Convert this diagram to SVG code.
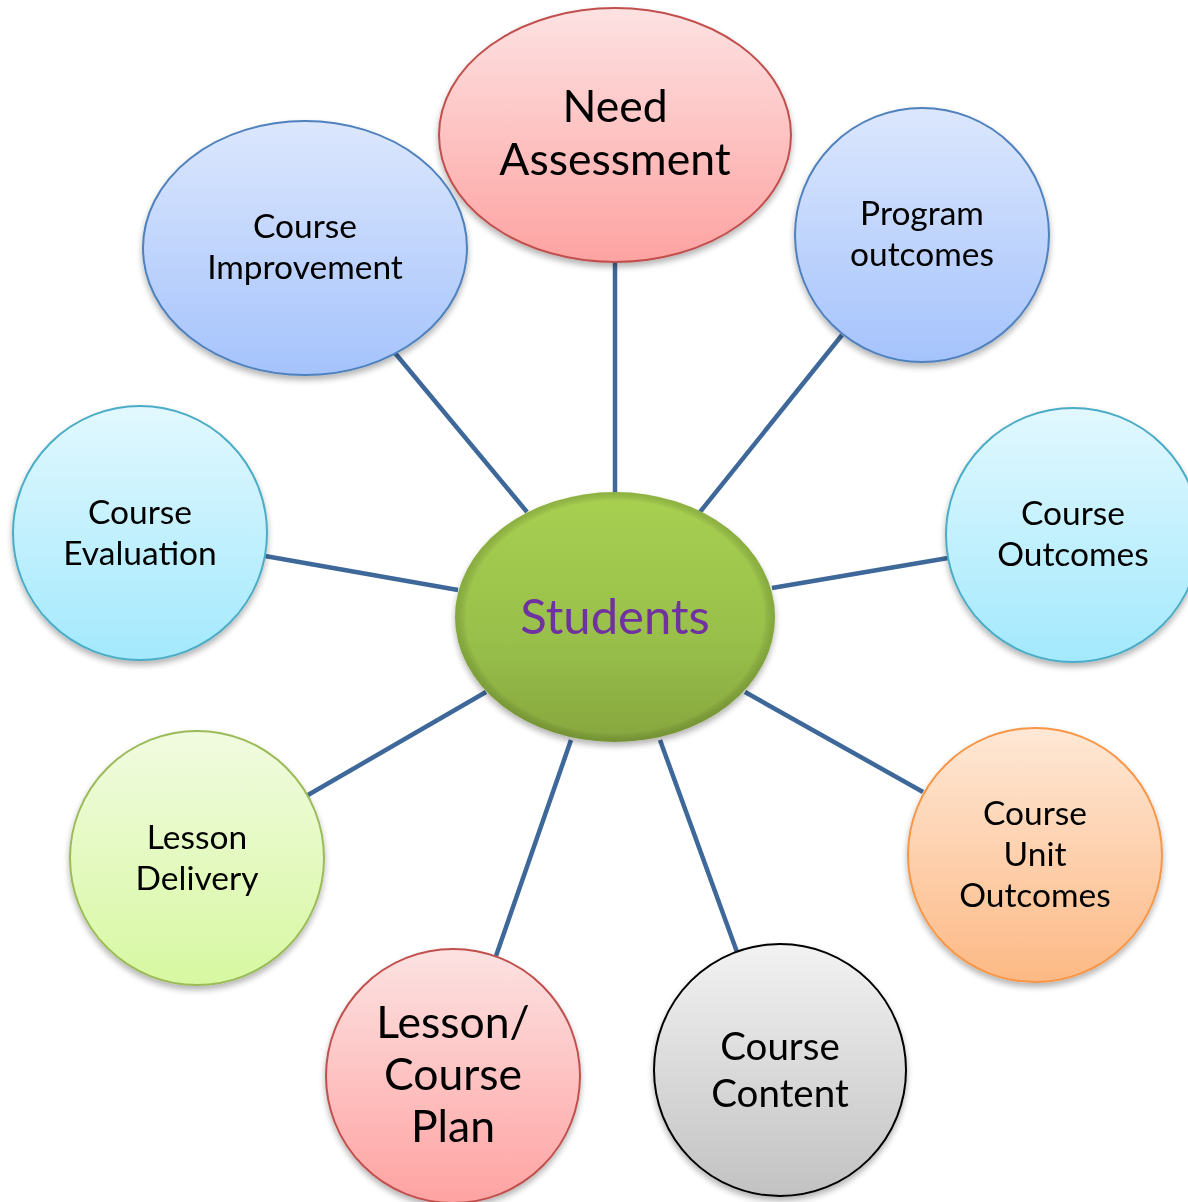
<svg xmlns="http://www.w3.org/2000/svg" width="1188" height="1202" viewBox="0 0 1188 1202">
  <defs>
    <linearGradient id="gRed" x1="0" y1="0" x2="0" y2="1">
      <stop offset="0" stop-color="#fde2e2"/>
      <stop offset="1" stop-color="#fea3a2"/>
    </linearGradient>
    <linearGradient id="gBlue" x1="0" y1="0" x2="0" y2="1">
      <stop offset="0" stop-color="#dce7fd"/>
      <stop offset="1" stop-color="#a5c3fc"/>
    </linearGradient>
    <linearGradient id="gCyan" x1="0" y1="0" x2="0" y2="1">
      <stop offset="0" stop-color="#e2f8fe"/>
      <stop offset="1" stop-color="#a3e9fd"/>
    </linearGradient>
    <linearGradient id="gOrange" x1="0" y1="0" x2="0" y2="1">
      <stop offset="0" stop-color="#fee8d6"/>
      <stop offset="1" stop-color="#fdb985"/>
    </linearGradient>
    <linearGradient id="gGray" x1="0" y1="0" x2="0" y2="1">
      <stop offset="0" stop-color="#f2f2f2"/>
      <stop offset="1" stop-color="#c2c2c2"/>
    </linearGradient>
    <linearGradient id="gLime" x1="0" y1="0" x2="0" y2="1">
      <stop offset="0" stop-color="#f1fbe0"/>
      <stop offset="1" stop-color="#d7f8a1"/>
    </linearGradient>
    <linearGradient id="gGreen" x1="0" y1="0" x2="0" y2="1">
      <stop offset="0" stop-color="#a8d051"/>
      <stop offset="0.6" stop-color="#98bf4a"/>
      <stop offset="1" stop-color="#86a63e"/>
    </linearGradient>
    <radialGradient id="gBevel" cx="0.5" cy="0.5" r="0.5">
      <stop offset="0.93" stop-color="#000" stop-opacity="0"/>
      <stop offset="1" stop-color="#3f5a12" stop-opacity="0.25"/>
    </radialGradient>
    <filter id="shadow" x="-10%" y="-10%" width="120%" height="125%">
      <feGaussianBlur in="SourceAlpha" stdDeviation="3"/>
      <feOffset dx="0" dy="4" result="b"/>
      <feComponentTransfer><feFuncA type="linear" slope="0.3"/></feComponentTransfer>
      <feMerge><feMergeNode/><feMergeNode in="SourceGraphic"/></feMerge>
    </filter>
  </defs>
  <style>
    .link { stroke: #3e6899; stroke-width: 4.5; fill: none; }
    .node { filter: url(#shadow); }
    .lbl { font-family: "Lato", "Open Sans", "Liberation Sans", sans-serif; fill: #000; text-anchor: middle; }
    .sm { font-size: 33.5px; }
    .md { font-size: 38.5px; }
    .lg { font-size: 44.5px; }
  </style>

  <rect width="1188" height="1202" fill="#ffffff"/>

  <!-- spokes from the hub to each surrounding node -->
  <g id="connectors">
    <line class="link" x1="615" y1="262" x2="615" y2="494"/>
    <line class="link" x1="842" y1="335" x2="700" y2="512"/>
    <line class="link" x1="948" y1="558" x2="772" y2="588"/>
    <line class="link" x1="923" y1="792" x2="745" y2="692"/>
    <line class="link" x1="737" y1="952" x2="660" y2="740"/>
    <line class="link" x1="496" y1="956" x2="571" y2="740"/>
    <line class="link" x1="308" y1="795" x2="486" y2="692"/>
    <line class="link" x1="265" y1="556" x2="458" y2="590"/>
    <line class="link" x1="395" y1="353" x2="527" y2="512"/>
  </g>

  <g id="need-assessment" class="node">
    <ellipse cx="615" cy="135" rx="176" ry="127" fill="url(#gRed)" stroke="#c0504d" stroke-width="2"/>
    <text class="lbl lg" x="615" y="122">Need</text>
    <text class="lbl lg" x="615" y="175">Assessment</text>
  </g>

  <g id="program-outcomes" class="node">
    <circle cx="922" cy="235" r="127" fill="url(#gBlue)" stroke="#4f81bd" stroke-width="2"/>
    <text class="lbl sm" x="922" y="225">Program</text>
    <text class="lbl sm" x="922" y="266">outcomes</text>
  </g>

  <g id="course-outcomes" class="node">
    <circle cx="1073" cy="535" r="127" fill="url(#gCyan)" stroke="#4bacc6" stroke-width="2"/>
    <text class="lbl sm" x="1073" y="525">Course</text>
    <text class="lbl sm" x="1073" y="566">Outcomes</text>
  </g>

  <g id="course-unit-outcomes" class="node">
    <circle cx="1035" cy="855" r="127" fill="url(#gOrange)" stroke="#f79646" stroke-width="2"/>
    <text class="lbl sm" x="1035" y="825">Course</text>
    <text class="lbl sm" x="1035" y="866">Unit</text>
    <text class="lbl sm" x="1035" y="907">Outcomes</text>
  </g>

  <g id="course-content" class="node">
    <circle cx="780" cy="1070" r="126" fill="url(#gGray)" stroke="#000000" stroke-width="2"/>
    <text class="lbl md" x="780" y="1060">Course</text>
    <text class="lbl md" x="780" y="1107">Content</text>
  </g>

  <g id="lesson-course-plan" class="node">
    <circle cx="453" cy="1076" r="127" fill="url(#gRed)" stroke="#c0504d" stroke-width="2"/>
    <text class="lbl lg" x="453" y="1038">Lesson/</text>
    <text class="lbl lg" x="453" y="1090">Course</text>
    <text class="lbl lg" x="453" y="1142">Plan</text>
  </g>

  <g id="lesson-delivery" class="node">
    <circle cx="197" cy="858" r="127" fill="url(#gLime)" stroke="#9bbb59" stroke-width="2"/>
    <text class="lbl sm" x="197" y="849">Lesson</text>
    <text class="lbl sm" x="197" y="890">Delivery</text>
  </g>

  <g id="course-evaluation" class="node">
    <circle cx="140" cy="533" r="127" fill="url(#gCyan)" stroke="#4bacc6" stroke-width="2"/>
    <text class="lbl sm" x="140" y="524">Course</text>
    <text class="lbl sm" x="140" y="565">Evaluation</text>
  </g>

  <g id="course-improvement" class="node">
    <ellipse cx="305" cy="248" rx="162" ry="127" fill="url(#gBlue)" stroke="#4f81bd" stroke-width="2"/>
    <text class="lbl sm" x="305" y="238">Course</text>
    <text class="lbl sm" x="305" y="279">Improvement</text>
  </g>

  <g id="students" class="node">
    <ellipse cx="615" cy="617" rx="160" ry="125" fill="url(#gGreen)"/>
    <ellipse cx="615" cy="617" rx="160" ry="125" fill="url(#gBevel)"/>
    <text class="lbl" x="615" y="634" style="font-size:49px; fill:#7030a0;">Students</text>
  </g>
</svg>
